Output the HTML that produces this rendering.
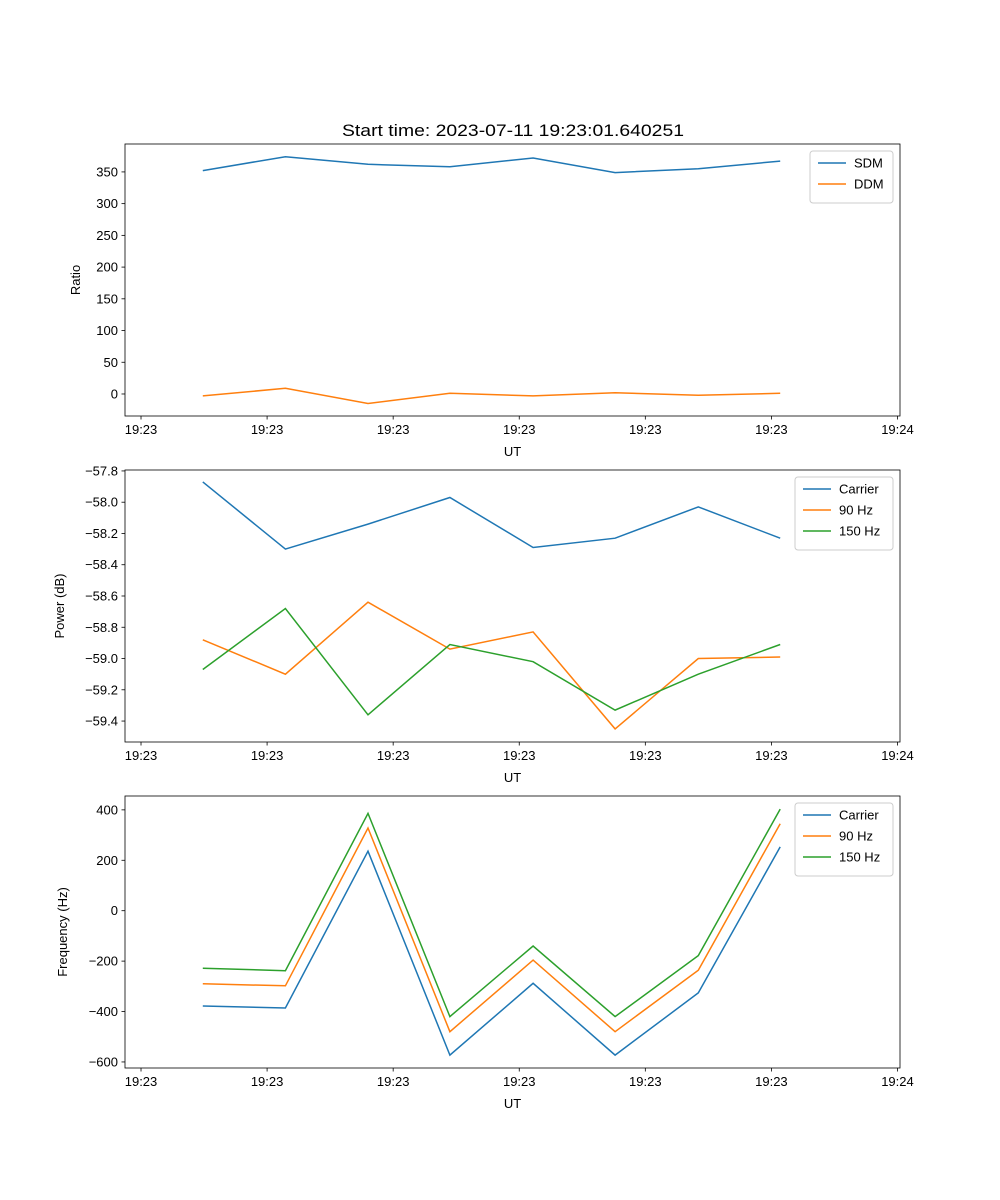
<!DOCTYPE html>
<html><head><meta charset="utf-8"><style>
html,body{margin:0;padding:0;background:#fff}
svg{display:block;font-family:"Liberation Sans","DejaVu Sans",sans-serif}
</style></head><body>
<svg id="fig" width="1000" height="1200" viewBox="0 0 1000 1200" xmlns="http://www.w3.org/2000/svg">
<rect width="1000" height="1200" fill="#fff"/>
<text x="513" y="136" font-size="16.5" text-anchor="middle" textLength="342" lengthAdjust="spacingAndGlyphs">Start time: 2023-07-11 19:23:01.640251</text>
</svg>
<script>
const times = [4.9, 11.45, 18.0, 24.5, 31.1, 37.6, 44.2, 50.7];
const xTickVals = [0, 10, 20, 30, 40, 50, 60];
const xTickLabels = ["19:23","19:23","19:23","19:23","19:23","19:23","19:24"];
const sdm = [352, 374, 362, 358, 372, 349, 355, 367];
const ddm = [-3, 9, -15, 1, -3, 2, -2, 1];
const powCarrier = [-57.87, -58.30, -58.14, -57.97, -58.29, -58.23, -58.03, -58.23];
const pow90 = [-58.88, -59.10, -58.64, -58.94, -58.83, -59.45, -59.00, -58.99];
const pow150 = [-59.07, -58.68, -59.36, -58.91, -59.02, -59.33, -59.10, -58.91];
const freqCarrier = [-378, -386, 236, -573, -288, -573, -326, 253];
const freq90 = [-290, -298, 328, -480, -196, -480, -236, 345];
const freq150 = [-228, -238, 386, -420, -140, -420, -178, 403];
const ticks1 = [0, 50, 100, 150, 200, 250, 300, 350];
const ticks2 = [-57.8, -58.0, -58.2, -58.4, -58.6, -58.8, -59.0, -59.2, -59.4];
const ticks3 = [400, 200, 0, -200, -400, -600];

const NS = "http://www.w3.org/2000/svg";
const svg = document.getElementById('fig');
function mk(tag, attrs, parent) {
  const e = document.createElementNS(NS, tag);
  for (const k in attrs) e.setAttribute(k, attrs[k]);
  (parent || svg).appendChild(e);
  return e;
}
const X0 = 125, X1 = 900, XMIN = -1.27, XMAX = 60.2;
const xs = v => X0 + (v - XMIN) / (XMAX - XMIN) * (X1 - X0);
const C = {blue:"#1f77b4", orange:"#ff7f0e", green:"#2ca02c"};

function panel(name, top, bot, ymin, ymax, yticks, fmt, ylabel, series, legend) {
  const g = mk('g', {});
  
  
  const ys = v => bot - (v - ymin) / (ymax - ymin) * (bot - top);
  series.forEach(s => {
    const pts = s.vals.map((v, i) => xs(times[i]).toFixed(1) + ',' + ys(v).toFixed(1)).join(' ');
    const p = mk('polyline', {points: pts, fill: 'none', stroke: s.color, 'stroke-width': 1.5}, g);
    
    
  });
  const fr = mk('rect', {x: X0, y: top, width: X1 - X0, height: bot - top, fill: 'none', stroke: '#000', 'stroke-width': 0.8}, g);
  
  
  xTickVals.forEach((v, i) => {
    const x = xs(v);
    mk('line', {x1: x, x2: x, y1: bot, y2: bot + 3.5, stroke: '#000', 'stroke-width': 0.8}, g);
    const t = mk('text', {x: x, y: bot + 18, 'font-size': 13, 'text-anchor': 'middle'}, g);
    
    
    t.textContent = xTickLabels[i];
  });
  const xl = mk('text', {x: (X0 + X1) / 2, y: bot + 40, 'font-size': 13, 'text-anchor': 'middle'}, g);
  
  
  xl.textContent = 'UT';
  yticks.forEach(v => {
    const y = ys(v);
    mk('line', {x1: X0 - 3.5, x2: X0, y1: y, y2: y, stroke: '#000', 'stroke-width': 0.8}, g);
    const t = mk('text', {x: X0 - 7, y: y + 4.5, 'font-size': 13, 'text-anchor': 'end'}, g);
    
    
    t.textContent = fmt(v);
  });
  const yl = mk('text', {x: 0, y: 0, 'font-size': 13, 'text-anchor': 'middle', transform: `translate(${legend.ylx},${(top + bot) / 2}) rotate(-90)`}, g);
  
  
  yl.textContent = ylabel;
  const lg = mk('g', {}, g);
  
  
  const h = 10 + series.length * 21;
  mk('rect', {x: legend.x, y: top + 7, width: X1 - 7 - legend.x, height: h, rx: 3, fill: '#fff', 'fill-opacity': 0.8, stroke: '#ccc'}, lg);
  series.forEach((s, i) => {
    const y = top + 19 + i * 21;
    const e = mk('g', {}, lg);
    
    
    mk('line', {x1: legend.x + 8, x2: legend.x + 36, y1: y, y2: y, stroke: s.color, 'stroke-width': 1.5}, e);
    const t = mk('text', {x: legend.x + 44, y: y + 4.5, 'font-size': 13}, e);
    t.textContent = s.label;
  });
}
const f2 = v => (v < 0 ? '\u2212' : '') + Math.abs(v).toFixed(1);
const fi = v => (v < 0 ? '\u2212' : '') + Math.abs(v);
panel('ratio-panel', 144, 416, -34.7, 394, ticks1, fi, 'Ratio',
  [{id:'sdm', vals: sdm, color: C.blue, label:'SDM'}, {id:'ddm', vals: ddm, color: C.orange, label:'DDM'}],
  {x: 810, ylx: 80});
panel('power-panel', 470, 742, -59.534, -57.794, ticks2, f2, 'Power (dB)',
  [{id:'carrier', vals: powCarrier, color: C.blue, label:'Carrier'}, {id:'90hz', vals: pow90, color: C.orange, label:'90 Hz'}, {id:'150hz', vals: pow150, color: C.green, label:'150 Hz'}],
  {x: 795, ylx: 64});
panel('frequency-panel', 796, 1068, -624, 455, ticks3, fi, 'Frequency (Hz)',
  [{id:'carrier', vals: freqCarrier, color: C.blue, label:'Carrier'}, {id:'90hz', vals: freq90, color: C.orange, label:'90 Hz'}, {id:'150hz', vals: freq150, color: C.green, label:'150 Hz'}],
  {x: 795, ylx: 67});
</script>
</body></html>
